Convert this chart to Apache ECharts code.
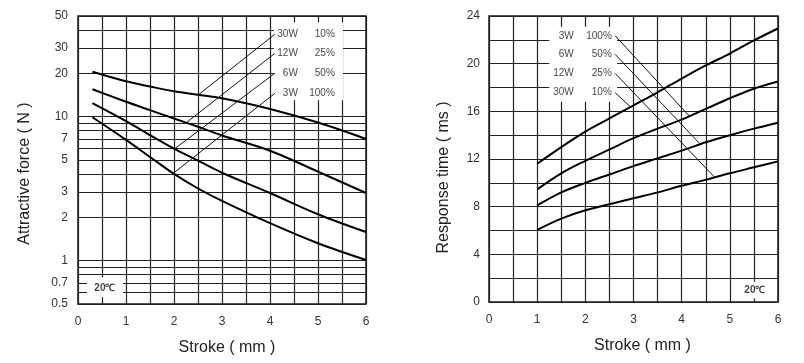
<!DOCTYPE html>
<html><head><meta charset="utf-8">
<script src="https://cdn.jsdelivr.net/npm/echarts@6/dist/echarts.min.js"></script>
<style>html,body{margin:0;padding:0;background:#fff}#c{width:804px;height:363px}</style>
</head><body><div id="c"></div>
<script>
// ---------- Left chart: Attractive force vs stroke (log scale) ----------
const forceStroke = [0.3, 1, 1.5, 2, 2.5, 3, 4, 5, 6];
const force30W = [20.5, 17.6, 16.2, 15.0, 14.2, 13.4, 11.3, 9.1, 7.0];
const force12W = [15.5, 12.7, 11.1, 9.7, 8.5, 7.4, 5.8, 4.15, 2.95];
const force6W  = [12.4, 9.3, 7.45, 6.0, 4.95, 4.08, 2.95, 2.1, 1.58];
const force3W  = [9.9, 6.9, 5.25, 4.0, 3.17, 2.6, 1.82, 1.32, 1.01];
const forceTickLabels = [0.5, 0.7, 1, 2, 3, 5, 7, 10, 20, 30, 50];
const forceGridValues = [0.5, 0.6, 0.7, 0.8, 0.9, 1, 2, 3, 4, 5, 6, 7, 8, 9, 10, 20, 30, 40, 50];
const forceLegendW = ['30W', '12W', '6W', '3W'];
const forceLegendPct = ['10%', '25%', '50%', '100%'];
const forceLegendRowY = [37.3, 27.5, 20.0, 14.5];
const forceLeaderStartX = 4.1;
const forceLeaderEnds = [[2.51, 14.2], [2.26, 9.1], [2.01, 5.97], [1.98, 4.03]];

// ---------- Right chart: Response time vs stroke ----------
const timeStroke = [1, 1.5, 2, 2.5, 3, 3.5, 4, 4.5, 5, 5.5, 6];
const timeA = [11.6, 13.0, 14.3, 15.4, 16.5, 17.6, 18.75, 19.85, 20.85, 21.95, 22.95];
const timeB = [9.45, 10.8, 11.85, 12.8, 13.75, 14.55, 15.3, 16.2, 17.1, 17.9, 18.5];
const timeC = [8.1, 9.2, 10.0, 10.7, 11.4, 12.05, 12.7, 13.4, 14.0, 14.55, 15.05];
const timeD = [6.05, 7.0, 7.7, 8.2, 8.7, 9.2, 9.75, 10.25, 10.8, 11.3, 11.8];
const timeLegendW = ['3W', '6W', '12W', '30W'];
const timeLegendPct = ['100%', '50%', '25%', '10%'];
const timeLegendRowY = [22.34, 20.78, 19.18, 17.56];
const timeLeaderStartX = 2.62;
const timeLeaderEnds = [[4.17, 15.55], [4.38, 13.27], [4.69, 10.45], [2.93, 16.4]];

const strokeTicks = [0, 1, 2, 3, 4, 5, 6];
const tempLabel = '20℃';

const FONT = '"Liberation Sans", Arial, sans-serif';
const GRIDLINE = {show: true, lineStyle: {color: '#222', width: 1.2}};

function zip(xs, ys) { return xs.map((x, i) => [x, ys[i]]); }
function curve(xi, yi, xs, ys) {
  return {type: 'line', xAxisIndex: xi, yAxisIndex: yi, data: zip(xs, ys), smooth: 0.35,
    showSymbol: false, symbol: 'none', lineStyle: {color: '#000', width: 2}, z: 5, silent: true};
}
function leader(xi, yi, sx, sy, end) {
  return {type: 'line', xAxisIndex: xi, yAxisIndex: yi, data: [[sx, sy], end], showSymbol: false,
    symbol: 'none', lineStyle: {color: '#111', width: 1}, z: 6, silent: true};
}
function whiteBoxes(xi, yi, boxes) {
  return {type: 'line', xAxisIndex: xi, yAxisIndex: yi, data: [], z: 3, silent: true,
    markArea: {silent: true, itemStyle: {color: '#fff', opacity: 1}, label: {show: false},
      data: boxes.map(b => [{coord: [b[0], b[1]]}, {coord: [b[2], b[3]]}])}};
}
function texts(xi, yi, pts, opts) {
  return {type: 'scatter', xAxisIndex: xi, yAxisIndex: yi, symbolSize: 0, z: 7, silent: true,
    data: pts, itemStyle: {color: 'transparent'},
    label: Object.assign({show: true, position: 'left', distance: 0, color: '#111',
      fontFamily: FONT, fontSize: 10, formatter: p => p.value[2]}, opts || {})};
}

const xAxisBase = (gi, gapPad) => ({
  type: 'value', gridIndex: gi, min: 0, max: 6, interval: 0.5,
  axisLine: {show: false}, axisTick: {show: false},
  axisLabel: {color: '#333', fontFamily: FONT, fontSize: 12, margin: 12,
    formatter: v => strokeTicks.indexOf(v) >= 0 ? String(v) : ''},
  splitLine: GRIDLINE,
  name: 'Stroke ( mm )', nameLocation: 'middle', nameGap: 36,
  nameTextStyle: {color: '#222', fontFamily: FONT, fontSize: 16, padding: [0, 0, 0, gapPad]}
});

const option = {
  animation: false,
  backgroundColor: '#fff',
  grid: [
    {left: 78, top: 16, width: 288, height: 288, show: true, borderColor: '#1a1a1a', borderWidth: 1.5, backgroundColor: 'transparent'},
    {left: 489, top: 16, width: 289, height: 286, show: true, borderColor: '#1a1a1a', borderWidth: 1.5, backgroundColor: 'transparent'}
  ],
  xAxis: [xAxisBase(0, 10), xAxisBase(1, 18)],
  yAxis: [
    {type: 'log', logBase: 10, gridIndex: 0, min: 0.5, max: 50,
      axisLine: {show: false},
      axisTick: {show: false, customValues: forceGridValues},
      axisLabel: {customValues: forceTickLabels, color: '#333', fontFamily: FONT, fontSize: 12, margin: 10},
      splitLine: GRIDLINE,
      name: 'Attractive force ( N )', nameLocation: 'middle', nameGap: 45,
      nameTextStyle: {color: '#222', fontFamily: FONT, fontSize: 16, padding: [0, 27, 0, 0]}},
    {type: 'value', gridIndex: 1, min: 0, max: 24, interval: 2,
      axisLine: {show: false}, axisTick: {show: false},
      axisLabel: {color: '#333', fontFamily: FONT, fontSize: 12, margin: 9,
        formatter: v => v % 4 === 0 ? String(v) : ''},
      splitLine: GRIDLINE,
      name: 'Response time ( ms )', nameLocation: 'middle', nameGap: 37,
      nameTextStyle: {color: '#222', fontFamily: FONT, fontSize: 16, padding: [0, 37, 0, 0]}}
  ],
  series: [
    whiteBoxes(0, 0, [[4.08, 13.0, 5.52, 45], [0.19, 0.557, 0.94, 0.766]]),
    whiteBoxes(1, 1, [[1.25, 16.8, 2.66, 23.1], [5.08, 0.3, 5.96, 1.7]]),
    curve(0, 0, forceStroke, force30W),
    curve(0, 0, forceStroke, force12W),
    curve(0, 0, forceStroke, force6W),
    curve(0, 0, forceStroke, force3W),
    curve(1, 1, timeStroke, timeA),
    curve(1, 1, timeStroke, timeB),
    curve(1, 1, timeStroke, timeC),
    curve(1, 1, timeStroke, timeD),
    ...forceLeaderEnds.map((e, i) => leader(0, 0, forceLeaderStartX, forceLegendRowY[i], e)),
    ...timeLeaderEnds.map((e, i) => leader(1, 1, timeLeaderStartX, timeLegendRowY[i], e)),
    texts(0, 0, forceLegendW.map((t, i) => [4.58, forceLegendRowY[i], t])),
    texts(0, 0, forceLegendPct.map((t, i) => [5.35, forceLegendRowY[i], t])),
    texts(1, 1, timeLegendW.map((t, i) => [1.76, timeLegendRowY[i], t])),
    texts(1, 1, timeLegendPct.map((t, i) => [2.55, timeLegendRowY[i], t])),
    texts(0, 0, [[0.56, 0.646, tempLabel]], {position: 'inside', fontWeight: 'bold'}),
    texts(1, 1, [[5.52, 1.0, tempLabel]], {position: 'inside', fontWeight: 'bold'})
  ]
};
const chart = echarts.init(document.getElementById('c'), null, {renderer: 'canvas'});
chart.setOption(option);
</script></body></html>
